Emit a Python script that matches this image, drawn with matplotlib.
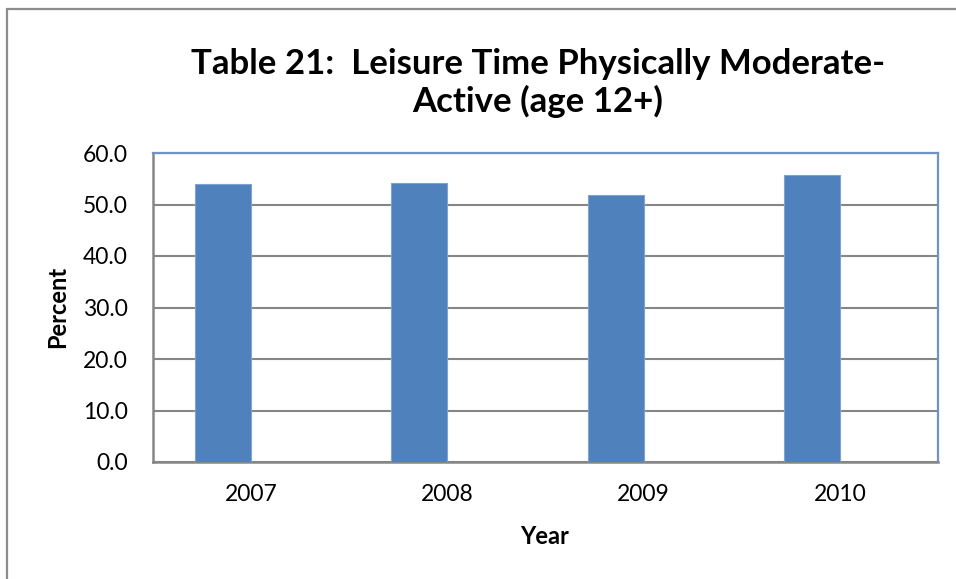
import matplotlib.pyplot as plt
from matplotlib.patches import Rectangle

years = ['2007', '2008', '2009', '2010']
percent = [53.9, 54.1, 51.8, 55.7]
yticks = [0, 10, 20, 30, 40, 50, 60]

BAR_BLUE = '#4F81BD'
GRID_GRAY = '#868686'

plt.rcParams['font.family'] = ['Lato', 'DejaVu Sans']

fig = plt.figure(figsize=(9.56, 5.79), dpi=100)
ax = fig.add_axes([153 / 956, 1 - 462 / 579, 785 / 956, 309 / 579])

# outer chart border (runs off the right and bottom edges)
fig.patches.append(Rectangle((7 / 956, -0.1), 1.2, 1 - 9 / 579 + 0.1,
                             transform=fig.transFigure, fill=False,
                             edgecolor='#8C8C8C', linewidth=1.6, zorder=0))

x = list(range(len(years)))
ax.bar(x, percent, width=-0.285, align='edge', color=BAR_BLUE,
       edgecolor='#7FA3D0', linewidth=0.8, zorder=3)

ax.set_xlim(-0.5, len(years) - 0.5)
ax.set_ylim(0, 60)
ax.set_yticks(yticks)
ax.set_yticklabels([f'{v:.1f}' for v in yticks], fontsize=16.5)
ax.set_xticks(x)
ax.set_xticklabels(years, fontsize=16.5)
ax.tick_params(axis='y', length=0, pad=18)
ax.tick_params(axis='x', length=0, pad=16)
ax.yaxis.grid(True, color=GRID_GRAY, linewidth=1.5, zorder=1)
ax.set_axisbelow(True)

for side in ['left', 'bottom']:
    ax.spines[side].set_color(GRID_GRAY)
    ax.spines[side].set_linewidth(1.8)
for side in ['top', 'right']:
    ax.spines[side].set_color('#6E93C6')
    ax.spines[side].set_linewidth(1.6)

fig.text(538 / 956, 1 - 83 / 579,
         'Table 21:  Leisure Time Physically Moderate-\nActive (age 12+)',
         ha='center', va='center', fontsize=25, fontweight='bold',
         linespacing=1.2)
fig.text(545 / 956, 1 - 537 / 579, 'Year', ha='center', va='center',
         fontsize=17, fontweight='bold')
fig.text(58 / 956, 1 - 307 / 579, 'Percent', ha='center', va='center',
         fontsize=17, fontweight='bold', rotation=90)

plt.savefig('out.png', dpi=100, facecolor='white')
